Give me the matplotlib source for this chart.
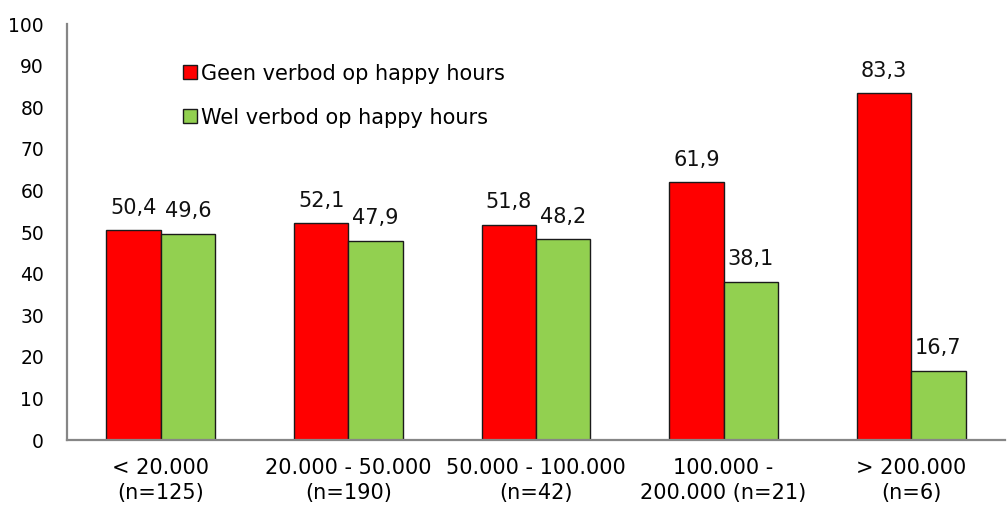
import numpy as np
import matplotlib.pyplot as plt

# categorieën en waarden (percentages)
categories = ['< 20.000\n(n=125)', '20.000 - 50.000\n(n=190)', '50.000 - 100.000\n(n=42)',
              '100.000 -\n200.000 (n=21)', '> 200.000\n(n=6)']
geen_verbod = [50.4, 52.1, 51.8, 61.9, 83.3]
wel_verbod = [49.6, 47.9, 48.2, 38.1, 16.7]
series_names = ['Geen verbod op happy hours', 'Wel verbod op happy hours']

plt.rcParams['font.family'] = ['DejaVu Sans']
fs = 15

fig = plt.figure(figsize=(10.07, 5.08), dpi=100)
ax = fig.add_axes([67 / 1007, 68 / 508, 938 / 1007, 416 / 508])

x = np.arange(len(categories))
w = 0.29
b1 = ax.bar(x - w / 2, geen_verbod, w, color='#ff0000', edgecolor='#1a1a1a', linewidth=1.0,
            label=series_names[0])
b2 = ax.bar(x + w / 2, wel_verbod, w, color='#92d050', edgecolor='#1a1a1a', linewidth=1.0,
            label=series_names[1])

def fmt(v):
    return f'{v:.1f}'.replace('.', ',')

for bars, vals in [(b1, geen_verbod), (b2, wel_verbod)]:
    for r, v in zip(bars, vals):
        ax.annotate(fmt(v), (r.get_x() + r.get_width() / 2, v), xytext=(0, 12),
                    textcoords='offset points', ha='center', va='baseline',
                    fontsize=fs, color='#111111')

ax.set_xlim(-0.5, len(categories) - 0.5)
ax.set_ylim(0, 100)
ax.set_yticks(range(0, 101, 10))
ax.set_xticks(x)
ax.set_xticklabels(categories, fontsize=fs, linespacing=1.3)
ax.tick_params(axis='y', labelsize=13.5, length=0, pad=16.5)
ax.tick_params(axis='x', length=0, pad=13)

for s in ['top', 'right']:
    ax.spines[s].set_visible(False)
for s in ['left', 'bottom']:
    ax.spines[s].set_color('#868686')
    ax.spines[s].set_linewidth(1.6)

ax.legend(loc='upper left', bbox_to_anchor=(0.1034, 0.95), frameon=False, fontsize=fs,
          handlelength=0.68, handleheight=0.68, handletextpad=0.2, labelspacing=1.15)

fig.savefig('out.png', dpi=100)
